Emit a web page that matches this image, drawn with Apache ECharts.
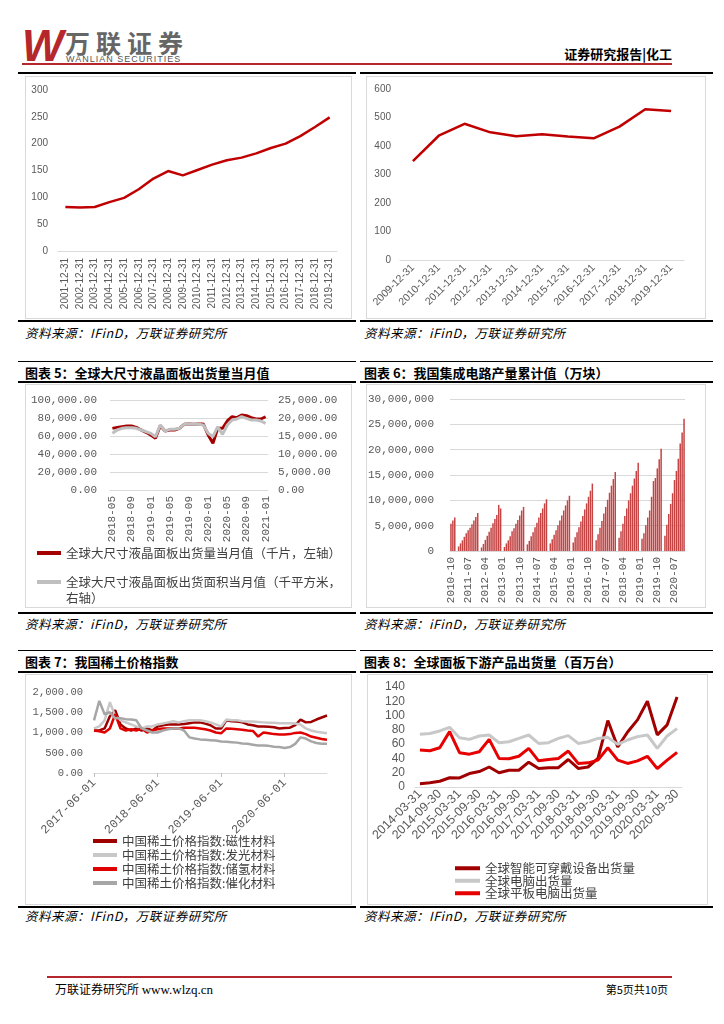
<!DOCTYPE html>
<html><head><meta charset="utf-8">
<script src="https://cdn.jsdelivr.net/npm/echarts@6/dist/echarts.min.js"></script>
<style>
body{margin:0;width:724px;height:1024px;background:#fff;position:relative;overflow:hidden;font-family:"Noto Sans CJK SC",sans-serif;}
.a{position:absolute;white-space:nowrap;}
.hl{position:absolute;background:#000;}
.box{position:absolute;border:1px solid #d9d9d9;box-sizing:border-box;}
.title{position:absolute;font-size:13px;font-weight:bold;color:#000;white-space:nowrap;line-height:16px;}
.src{position:absolute;font-size:12.5px;font-style:italic;color:#000;white-space:nowrap;line-height:16px;letter-spacing:0.5px;}
.chart{position:absolute;}
</style></head><body>
<!-- header -->
<div class="a" style="left:22px;top:24px;font:italic bold 44px 'Liberation Sans';line-height:1;color:#b5272d;">W</div>
<div class="a" style="left:65px;top:29px;font-size:25px;font-weight:bold;color:#666;letter-spacing:6px;line-height:26px;">万联证券</div>
<div class="a" style="left:66px;top:55px;font:9px 'Liberation Sans';letter-spacing:1px;color:#555;line-height:9px;">WANLIAN SECURITIES</div>
<div class="a" style="right:52px;top:46px;font-size:13px;font-weight:bold;color:#000;line-height:16px;">证券研究报告|化工</div>
<div class="hl" style="left:22px;top:63px;width:650px;height:2px;background:#b5272d;"></div>

<!-- row 1 -->
<div class="hl" style="left:18px;top:72px;width:338px;height:2px;"></div>
<div class="hl" style="left:360px;top:72px;width:353px;height:2px;"></div>
<div class="box" style="left:25px;top:76px;width:327px;height:243px;"></div>
<div class="box" style="left:366px;top:76px;width:340px;height:243px;"></div>
<div class="hl" style="left:18px;top:320px;width:338px;height:2px;"></div>
<div class="hl" style="left:360px;top:320px;width:353px;height:2px;"></div>
<div class="src" style="left:25px;top:325px;">资料来源：IFinD，万联证券研究所</div>
<div class="src" style="left:364px;top:325px;">资料来源：iFinD，万联证券研究所</div>

<!-- row 2 -->
<div class="hl" style="left:18px;top:361px;width:338px;height:1px;"></div>
<div class="hl" style="left:360px;top:361px;width:353px;height:1px;"></div>
<div class="title" style="left:25px;top:365px;">图表 5：全球大尺寸液晶面板出货量当月值</div>
<div class="title" style="left:364px;top:365px;">图表 6：我国集成电路产量累计值（万块）</div>
<div class="hl" style="left:18px;top:381px;width:338px;height:2px;"></div>
<div class="hl" style="left:360px;top:381px;width:353px;height:2px;"></div>
<div class="box" style="left:25px;top:384px;width:327px;height:224px;"></div>
<div class="box" style="left:366px;top:384px;width:340px;height:224px;"></div>
<div class="hl" style="left:18px;top:612px;width:338px;height:2px;"></div>
<div class="hl" style="left:360px;top:612px;width:353px;height:2px;"></div>
<div class="src" style="left:25px;top:616px;">资料来源：iFinD，万联证券研究所</div>
<div class="src" style="left:364px;top:616px;">资料来源：iFinD，万联证券研究所</div>

<!-- row 3 -->
<div class="hl" style="left:18px;top:650px;width:338px;height:1px;"></div>
<div class="hl" style="left:360px;top:650px;width:353px;height:1px;"></div>
<div class="title" style="left:25px;top:654px;">图表 7：我国稀土价格指数</div>
<div class="title" style="left:364px;top:654px;">图表 8：全球面板下游产品出货量（百万台）</div>
<div class="hl" style="left:18px;top:671px;width:338px;height:2px;"></div>
<div class="hl" style="left:360px;top:671px;width:353px;height:2px;"></div>
<div class="box" style="left:25px;top:674px;width:327px;height:231px;"></div>
<div class="box" style="left:367px;top:674px;width:341px;height:231px;"></div>
<div class="hl" style="left:18px;top:906px;width:338px;height:2px;"></div>
<div class="hl" style="left:360px;top:906px;width:353px;height:2px;"></div>
<div class="src" style="left:25px;top:908px;">资料来源：IFinD，万联证券研究所</div>
<div class="src" style="left:364px;top:908px;">资料来源：IFinD，万联证券研究所</div>

<!-- footer -->
<div class="hl" style="left:47px;top:976px;width:625px;height:2px;background:#b5272d;"></div>
<div class="a" style="left:55px;top:981px;font-size:12px;color:#000;line-height:16px;">万联证券研究所 <span style="font-family:'Liberation Serif';font-size:13px;">www.wlzq.cn</span></div>
<div class="a" style="right:56px;top:981px;font-size:11px;color:#000;line-height:16px;">第5页共10页</div>

<div id="c1" class="chart" style="left:25px;top:76px;width:327px;height:243px;"></div>
<div id="c2" class="chart" style="left:366px;top:76px;width:340px;height:243px;"></div>
<div id="c5" class="chart" style="left:25px;top:384px;width:327px;height:224px;"></div>
<div id="c6" class="chart" style="left:366px;top:384px;width:340px;height:224px;"></div>
<div id="c7" class="chart" style="left:25px;top:674px;width:327px;height:231px;"></div>
<div id="c8" class="chart" style="left:367px;top:674px;width:341px;height:231px;"></div>

<script>
// ---------- data ----------
const c1Cats = ['2001-12-31','2002-12-31','2003-12-31','2004-12-31','2005-12-31','2006-12-31','2007-12-31','2008-12-31','2009-12-31','2010-12-31','2011-12-31','2012-12-31','2013-12-31','2014-12-31','2015-12-31','2016-12-31','2017-12-31','2018-12-31','2019-12-31'];
const c1Vals = [82,81,82,91,99,115,135,149,141,151,161,169,174,182,192,200,214,231,249];

const c2Cats = ['2009-12-31','2010-12-31','2011-12-31','2012-12-31','2013-12-31','2014-12-31','2015-12-31','2016-12-31','2017-12-31','2018-12-31','2019-12-31'];
const c2Vals = [347,436,478,448,434,441,433,427,468,529,523];

const c5Cats = ['2018-05','2018-06','2018-07','2018-08','2018-09','2018-10','2018-11','2018-12','2019-01','2019-02','2019-03','2019-04','2019-05','2019-06','2019-07','2019-08','2019-09','2019-10','2019-11','2019-12','2020-01','2020-02','2020-03','2020-04','2020-05','2020-06','2020-07','2020-08','2020-09','2020-10','2020-11','2020-12','2021-01'];
const c5Red = [68500,69600,70400,71100,71100,69600,66700,64100,61100,57400,71500,65600,66700,66700,68500,73000,73300,73000,73300,73300,61100,51900,68500,68500,76700,81400,80400,83300,82600,80400,78900,78900,81400];
const c5Gray = [15740,16670,17130,17310,17310,17130,16670,16200,15740,14810,18060,16390,16850,16850,17130,18240,18330,18240,18240,18060,15740,14810,17590,15460,18060,19440,19720,20370,19910,19440,19440,19170,18520];
const c5Names = ['全球大尺寸液晶面板出货量当月值（千片，左轴）','全球大尺寸液晶面板出货面积当月值（千平方米，右轴）'];

// 集成电路产量累计值, by year, Jan..Dec (2010 starts at Oct)
const ic2010 = [5.4e6,6.0e6,6.6e6];
const ic2011 = [null,0.9e6,1.5e6,2.1e6,2.8e6,3.5e6,4.1e6,4.6e6,5.3e6,6.0e6,6.7e6,7.5e6];
const ic2012 = [null,0.7e6,1.4e6,2.2e6,3.0e6,3.8e6,4.6e6,5.5e6,6.3e6,7.1e6,9.1e6,8.4e6];
const ic2013 = [null,0.8e6,1.5e6,2.1e6,2.9e6,3.9e6,4.5e6,5.4e6,6.1e6,7.0e6,8.0e6,8.7e6];
const ic2014 = [null,1.3e6,2.0e6,2.9e6,3.7e6,4.7e6,5.6e6,6.6e6,7.5e6,8.4e6,9.4e6,10.2e6];
const ic2015 = [null,1.5e6,2.3e6,3.2e6,4.1e6,5.1e6,6.0e6,7.0e6,8.0e6,9.0e6,10.0e6,10.9e6];
const ic2016 = [null,1.7e6,2.7e6,3.7e6,4.7e6,5.8e6,6.9e6,8.2e6,9.4e6,10.7e6,11.9e6,13.3e6];
const ic2017 = [null,2.1e6,3.3e6,4.6e6,5.9e6,7.4e6,8.7e6,10.1e6,11.5e6,12.9e6,14.2e6,15.6e6];
const ic2018 = [null,2.6e6,3.9e6,5.4e6,6.9e6,8.4e6,10.0e6,11.4e6,12.9e6,14.3e6,15.8e6,17.4e6];
const ic2019 = [null,2.4e6,3.5e6,5.1e6,6.6e6,8.0e6,10.7e6,13.8e6,14.4e6,16.3e6,18.1e6,20.2e6];
const ic2020 = [null,3.0e6,5.2e6,7.3e6,9.3e6,11.4e6,14.0e6,15.8e6,18.2e6,21.2e6,23.4e6,26.1e6];

const c7Names = ['中国稀土价格指数:磁性材料','中国稀土价格指数:发光材料','中国稀土价格指数:储氢材料','中国稀土价格指数:催化材料'];
const c7Mag = [1050,1050,1100,1400,1550,1200,1100,1050,1100,1050,1100,1050,1150,1180,1200,1200,1200,1210,1230,1250,1250,1220,1180,1100,1100,1300,1280,1270,1250,1200,1180,1150,1150,1140,1130,1100,1110,1120,1180,1320,1250,1260,1320,1370,1420];
const c7Lum = [1100,1150,1300,1750,1400,1300,1250,1200,1150,1100,1150,1150,1200,1220,1250,1280,1250,1280,1300,1300,1300,1280,1250,1200,1150,1320,1300,1300,1280,1270,1270,1260,1250,1240,1240,1230,1230,1230,1220,1200,1100,1050,1020,1000,980];
const c7Hyd = [1050,1030,1000,1100,1450,1100,1050,1080,1050,1100,1000,1050,1080,1100,1100,1100,1100,1120,1120,1120,1100,1080,1050,1000,980,1100,1090,1080,1070,1050,1040,900,1000,980,960,950,950,960,990,1000,960,900,870,840,820];
const c7Cat = [1300,1780,1450,1500,1350,1350,1330,1320,1300,1100,1050,1000,1000,1050,1080,1100,1100,1050,880,850,830,820,810,800,780,770,760,750,730,720,700,680,680,670,650,640,620,640,720,880,850,780,740,720,720];

const c8Cats = ['2014-03-31','2014-06-30','2014-09-30','2014-12-31','2015-03-31','2015-06-30','2015-09-30','2015-12-31','2016-03-31','2016-06-30','2016-09-30','2016-12-31','2017-03-31','2017-06-30','2017-09-30','2017-12-31','2018-03-31','2018-06-30','2018-09-30','2018-12-31','2019-03-31','2019-06-30','2019-09-30','2019-12-31','2020-03-31','2020-06-30','2020-09-30'];
const c8Names = ['全球智能可穿戴设备出货量','全球电脑出货量','全球平板电脑出货量'];
const c8Wear = [4.7,6.1,8,13,12.7,18.8,21.6,28,20,23.5,23.5,34.8,26,27,27,38.5,26,28,40,93,56,77,94,120,73,87,126];
const c8PC = [73.8,75,78.5,83.6,69,66.7,71.4,72.8,62,63.4,68,72.8,61,62,68,71.9,61,63.4,68,69.5,59.7,65.8,70.5,72.8,54,71.4,81.7];
const c8Tab = [51.7,50.7,55,77.5,48,46,49.3,66.7,40,39.5,43,54,36.6,38.5,40,50.3,33,33.8,37.6,55,37.6,33,36.6,43,25.8,37.6,48.4];

// ---------- helpers ----------
const GRAY = '#595959';
const LIGHT = '#d9d9d9';
const MONO = 'Liberation Mono';
const SANS = 'Liberation Sans';
const fmt2 = v => v.toLocaleString('en-US',{minimumFractionDigits:2,maximumFractionDigits:2});
const fmt0 = v => v.toLocaleString('en-US');
function monthCats(y0,m0,y1,m1,suffix){
  const out=[];let y=y0,m=m0;
  while(y<y1||(y===y1&&m<=m1)){out.push(y+'-'+String(m).padStart(2,'0')+(suffix||''));m++;if(m>12){m=1;y++;}}
  return out;
}
const c6Cats = monthCats(2010,10,2020,12);
const c6Vals = [].concat(ic2010,ic2011,ic2012,ic2013,ic2014,ic2015,ic2016,ic2017,ic2018,ic2019,ic2020);
const c7Cats = monthCats(2017,6,2021,2,'-01');

function mk(id,opt){const c=echarts.init(document.getElementById(id),null,{renderer:'canvas'});c.setOption(opt);}

// ---------- chart 1 ----------
mk('c1',{
  animation:false,
  grid:{left:33,top:14,width:279,height:161,outerBoundsMode:'none'},
  xAxis:{type:'category',data:c1Cats,boundaryGap:true,
    axisLine:{lineStyle:{color:LIGHT}},axisTick:{show:false},
    axisLabel:{rotate:90,interval:0,fontSize:10,color:GRAY,margin:7,fontFamily:SANS}},
  yAxis:{type:'value',min:0,max:300,interval:50,splitLine:{show:false},axisLine:{show:false},axisTick:{show:false},
    axisLabel:{fontSize:10,color:GRAY,margin:10,fontFamily:SANS}},
  series:[{type:'line',data:c1Vals,symbol:'none',lineStyle:{color:'#c00000',width:2.5},itemStyle:{color:'#c00000'}}]
});

// ---------- chart 2 ----------
mk('c2',{
  animation:false,
  grid:{left:34,top:13,width:284,height:171,outerBoundsMode:'none'},
  xAxis:{type:'category',data:c2Cats,boundaryGap:true,
    axisLine:{lineStyle:{color:LIGHT}},axisTick:{show:false},
    axisLabel:{rotate:45,interval:0,fontSize:10.5,color:GRAY,margin:6,fontFamily:SANS}},
  yAxis:{type:'value',min:0,max:600,interval:100,splitLine:{show:false},axisLine:{show:false},axisTick:{show:false},
    axisLabel:{fontSize:10,color:GRAY,margin:9,fontFamily:SANS}},
  series:[{type:'line',data:c2Vals,symbol:'none',lineStyle:{color:'#c00000',width:2.5},itemStyle:{color:'#c00000'}}]
});

// ---------- chart 5 ----------
const legText = {fontSize:12.5,color:'#404040',fontFamily:'Noto Sans CJK SC',lineHeight:16};
mk('c5',{
  animation:false,
  grid:{left:85,top:16,width:158,height:90,outerBoundsMode:'none'},
  legend:[
    {data:[c5Names[0]],left:12,top:161,orient:'vertical',padding:0,icon:'rect',itemWidth:24,itemHeight:4,textStyle:legText},
    {data:[c5Names[1]],left:12,top:174,orient:'vertical',padding:0,icon:'rect',itemWidth:24,itemHeight:4,textStyle:legText,
      formatter:n=>'\n'+n.replace('右轴）','\n右轴）')}
  ],
  xAxis:{type:'category',data:c5Cats,boundaryGap:true,
    axisLine:{lineStyle:{color:LIGHT}},axisTick:{show:false},
    axisLabel:{rotate:90,interval:3,fontSize:11,color:GRAY,margin:6,fontFamily:MONO}},
  yAxis:[
    {type:'value',min:0,max:100000,interval:20000,splitLine:{lineStyle:{color:LIGHT}},axisLine:{show:false},axisTick:{show:false},
      axisLabel:{fontSize:11,color:GRAY,margin:13,fontFamily:MONO,formatter:fmt2}},
    {type:'value',min:0,max:25000,interval:5000,splitLine:{show:false},axisLine:{show:false},axisTick:{show:false},
      axisLabel:{fontSize:11,color:GRAY,margin:10,fontFamily:MONO,formatter:fmt2}}
  ],
  series:[
    {name:c5Names[0],type:'line',yAxisIndex:0,data:c5Red,symbol:'none',lineStyle:{color:'#a50000',width:3},itemStyle:{color:'#a50000'}},
    {name:c5Names[1],type:'line',yAxisIndex:1,data:c5Gray,symbol:'none',lineStyle:{color:'#bfbfbf',width:3},itemStyle:{color:'#bfbfbf'}}
  ]
});

// ---------- chart 6 ----------
mk('c6',{
  animation:false,
  grid:{left:84,top:15,width:235,height:152,outerBoundsMode:'none'},
  xAxis:{type:'category',data:c6Cats,boundaryGap:true,
    axisLine:{lineStyle:{color:LIGHT}},axisTick:{show:false},
    axisLabel:{rotate:90,interval:8,fontSize:11,color:GRAY,margin:6,fontFamily:MONO}},
  yAxis:{type:'value',min:0,max:30000000,interval:5000000,splitLine:{lineStyle:{color:LIGHT}},axisLine:{show:false},axisTick:{show:false},
    axisLabel:{fontSize:11,color:GRAY,margin:16,fontFamily:MONO,formatter:fmt0}},
  series:[{type:'bar',data:c6Vals,barWidth:1.5,itemStyle:{color:'#c44444'}}]
});

// ---------- chart 7 ----------
const c7Colors = ['#9e0000','#c8c8c8','#e00000','#a6a6a6'];
const c7Data = [c7Mag,c7Lum,c7Hyd,c7Cat];
mk('c7',{
  animation:false,
  grid:{left:69,top:18,width:233,height:81,outerBoundsMode:'none'},
  legend:{data:c7Names,left:68,top:160,orient:'vertical',padding:0,itemGap:0,icon:'rect',itemWidth:24,itemHeight:4,
    textStyle:{fontSize:12.5,color:'#404040',fontFamily:'Noto Sans CJK SC',lineHeight:14}},
  xAxis:{type:'category',data:c7Cats,boundaryGap:false,
    axisLine:{lineStyle:{color:LIGHT}},axisTick:{show:true,interval:11,length:4,lineStyle:{color:'#bfbfbf'}},
    axisLabel:{rotate:45,interval:11,fontSize:12,color:GRAY,margin:8,fontFamily:MONO}},
  yAxis:{type:'value',min:0,max:2000,interval:500,splitLine:{show:false},axisLine:{show:false},axisTick:{show:false},
    axisLabel:{fontSize:10.5,color:GRAY,margin:11,fontFamily:MONO,formatter:fmt2}},
  series:c7Names.map((n,i)=>({name:n,type:'line',data:c7Data[i],symbol:'none',
    lineStyle:{color:c7Colors[i],width:2.5},itemStyle:{color:c7Colors[i]}}))
});

// ---------- chart 8 ----------
const c8Colors = ['#a00000','#c8c8c8','#e60000'];
const c8Data = [c8Wear,c8PC,c8Tab];
mk('c8',{
  animation:false,
  grid:{left:48,top:13,width:267,height:100,outerBoundsMode:'none'},
  legend:{data:c8Names,left:88,top:188,orient:'vertical',padding:0,itemGap:0,icon:'rect',itemWidth:25,itemHeight:4,
    textStyle:{fontSize:12.5,color:'#404040',fontFamily:'Noto Sans CJK SC',lineHeight:12.5}},
  xAxis:{type:'category',data:c8Cats,boundaryGap:true,
    axisLine:{lineStyle:{color:LIGHT}},axisTick:{show:false},
    axisLabel:{rotate:45,interval:1,fontSize:12.5,color:GRAY,margin:5,fontFamily:SANS}},
  yAxis:{type:'value',min:0,max:140,interval:20,splitLine:{show:false},axisLine:{show:false},axisTick:{show:false},
    axisLabel:{fontSize:12,color:GRAY,margin:10,fontFamily:SANS}},
  series:c8Names.map((n,i)=>({name:n,type:'line',data:c8Data[i],symbol:'none',
    lineStyle:{color:c8Colors[i],width:3},itemStyle:{color:c8Colors[i]}}))
});
</script>
</body></html>
